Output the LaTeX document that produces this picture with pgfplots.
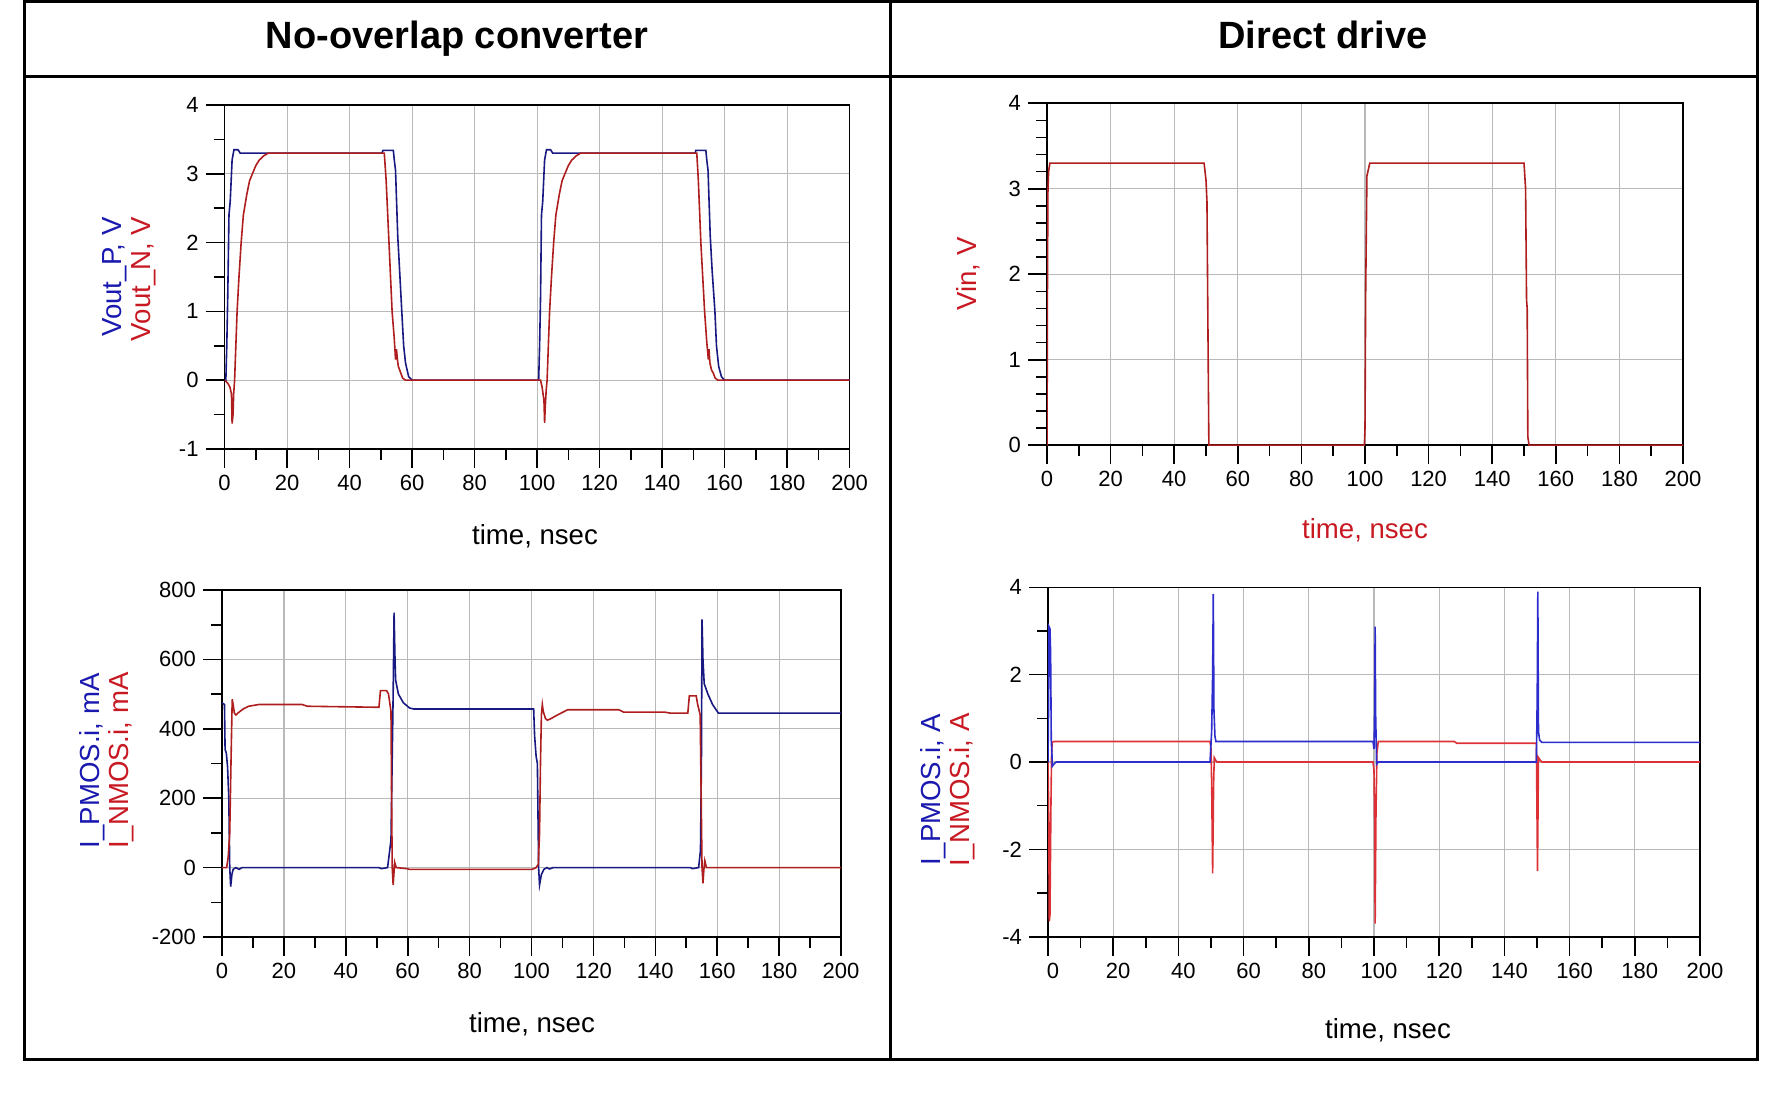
\documentclass[border=0pt]{standalone}
\usepackage{fontspec}
\setmainfont{Liberation Sans}
\usepackage{pgfplots}
\pgfplotsset{compat=1.18}
\definecolor{navy}{RGB}{25,25,130}
\definecolor{dred}{RGB}{175,30,30}
\definecolor{bblue}{RGB}{45,45,205}
\definecolor{bred}{RGB}{220,50,55}
\definecolor{lblue}{RGB}{25,25,175}
\definecolor{lred}{RGB}{200,25,35}
\definecolor{gridgray}{RGB}{185,185,185}
\pgfplotsset{
  adsaxis/.style={
    scale only axis, anchor=south west,
    xmin=0, xmax=200, xtick={0,20,...,200}, minor x tick num=1,
    grid=major, major grid style={line width=0.6pt, draw=gridgray},
    tick align=outside, tick pos=left,
    major tick length=9.5pt, minor tick length=5.5pt,
    axis line style={line width=0.8pt},
    every tick/.style={black, line width=0.8pt},
    tick label style={font=\fontsize{11}{13}\selectfont},
    /pgf/number format/assume math mode=true,
    every axis plot/.append style={line width=0.8pt, mark=none},
  }
}
\begin{document}
\begin{tikzpicture}
\path[use as bounding box] (0,0) rectangle (888.5pt,559.5pt);
\draw[line width=1.5pt] (12pt,30pt) rectangle (878.5pt,558.75pt);
\draw[line width=1.5pt] (12pt,521.15pt) -- (878.5pt,521.15pt);
\draw[line width=1.5pt] (445.15pt,30pt) -- (445.15pt,558.75pt);
\node[anchor=base, font=\fontsize{19}{22}\selectfont\bfseries] at (228.5pt,535.35pt) {No-overlap converter};
\node[anchor=base, font=\fontsize{19}{22}\selectfont\bfseries] at (661.4pt,535.35pt) {Direct drive};

% ---------- top left ----------
\begin{axis}[adsaxis, at={(112.3pt,335pt)}, width=312.5pt, height=172pt,
  ymin=-1, ymax=4, ytick={-1,0,...,4}, minor y tick num=1]
\addplot[navy] coordinates {(0,0) (0.4,0) (0.7,0.5) (1.0,1.2) (1.4,2.4) (1.8,2.6) (2.4,3.2) (3.0,3.35) (4.3,3.35) (5.0,3.3) (50.3,3.3) (50.7,3.34) (54.0,3.34) (54.3,3.2) (54.7,3.05) (55.4,2.1) (56.0,1.6) (56.7,1.0) (57.3,0.5) (57.9,0.25) (58.9,0.05) (60,0) (100.5,0) (100.8,0.5) (101.1,1.2) (101.4,2.4) (101.8,2.6) (102.4,3.2) (103.0,3.35) (104.3,3.35) (105,3.3) (150.6,3.3) (150.8,3.34) (154,3.34) (154.3,3.2) (154.7,3.05) (155.4,2.1) (156.0,1.6) (156.9,1.0) (157.4,0.5) (158.1,0.2) (159,0.05) (160,0) (200,0)};
\addplot[dred] coordinates {(0,0) (1.1,-0.05) (1.7,-0.1) (2.2,-0.2) (2.4,-0.63) (2.7,-0.5) (2.9,-0.2) (3.2,0) (3.6,0.5) (4.0,1.0) (4.6,1.5) (5.3,2.0) (6.0,2.4) (7.1,2.7) (8.0,2.9) (8.9,3.0) (10,3.12) (11.1,3.2) (12.5,3.26) (13.9,3.3) (51.1,3.3) (51.7,2.9) (52.6,2.0) (53.6,1.0) (54.3,0.6) (54.7,0.3) (55.0,0.45) (55.3,0.3) (55.6,0.2) (56.4,0.1) (57.0,0.03) (57.9,0) (101.1,0) (101.6,-0.1) (102.2,-0.3) (102.4,-0.62) (102.6,-0.4) (102.9,-0.15) (103.2,0) (103.6,0.5) (104,1.0) (104.6,1.5) (105.3,2.0) (106,2.4) (107.1,2.7) (108,2.9) (108.9,3.0) (110,3.12) (111.1,3.2) (112.5,3.26) (113.9,3.3) (151.1,3.3) (151.6,2.9) (152.4,2.0) (153.6,1.0) (154.3,0.55) (154.8,0.3) (155.0,0.45) (155.3,0.25) (155.8,0.15) (156.4,0.1) (157,0.03) (157.9,0) (200,0)};
\end{axis}

% ---------- top right ----------
\begin{axis}[adsaxis, at={(523.5pt,336.85pt)}, width=318pt, height=171pt,
  ymin=0, ymax=4, ytick={0,1,...,4}, minor y tick num=4]
\addplot[dred] coordinates {(0,0) (0.05,0.6) (0.15,2.0) (0.3,3.0) (0.5,3.2) (0.9,3.3) (49.4,3.3) (50.0,3.1) (50.3,2.85) (50.6,1.4) (50.9,0) (99.8,0) (100.0,0.2) (100.2,1.75) (100.6,3.15) (101.5,3.3) (150.0,3.3) (150.5,3.0) (150.8,1.7) (151.0,1.6) (151.2,0.1) (151.6,0) (200,0)};
\end{axis}

% ---------- bottom left ----------
\begin{axis}[adsaxis, at={(111pt,91pt)}, width=309.5pt, height=173.5pt,
  ymin=-200, ymax=800, ytick={-200,0,...,800}, minor y tick num=1]
\addplot[navy] coordinates {(0,475) (0.8,470) (1.0,340) (1.4,330) (1.8,290) (2.2,200) (2.5,0) (2.8,-55) (3.2,-20) (3.6,-5) (4.5,0) (5.5,-5) (6.5,0) (50.7,0) (51.5,-3) (53.5,0) (54.6,80) (55.3,500) (55.6,735) (55.9,600) (56.1,540) (57,500) (58.6,475) (60.6,460) (62,457) (100.7,457) (101.0,380) (101.5,320) (101.9,300) (102.3,0) (102.6,-50) (103.2,-20) (104,-5) (105,0) (105.8,-4) (107,0) (151.3,0) (152,-3) (154,0) (154.6,50) (154.9,300) (155.1,715) (155.4,600) (155.8,530) (157,500) (158.5,470) (160.4,445) (200,445)};
\addplot[dred] coordinates {(0,0) (1.5,0) (2.0,30) (2.5,100) (2.9,300) (3.2,440) (3.3,485) (3.6,470) (4.0,445) (4.5,440) (5.5,448) (7,458) (8.6,465) (11.9,470) (25.9,470) (27.6,465) (50.7,462) (51.2,510) (53.2,510) (53.8,500) (54.6,450) (54.8,200) (55.0,0) (55.3,-50) (55.6,-10) (55.8,15) (56.3,0) (59.7,-3) (60.5,-5) (100.2,-5) (101.5,0) (102.2,10) (102.6,100) (102.9,300) (103.2,440) (103.5,470) (103.8,450) (104.5,430) (105.1,425) (106.0,428) (108.4,440) (111.7,455) (128.2,455) (129.8,448) (143,448) (145,445) (150.5,445) (151.0,495) (153.2,495) (153.7,470) (154.5,440) (154.8,220) (155.1,0) (155.4,-45) (155.7,-5) (156,20) (156.5,0) (200,0)};
\end{axis}

% ---------- bottom right ----------
\begin{axis}[adsaxis, at={(524pt,91.15pt)}, width=326pt, height=174.7pt,
  ymin=-4, ymax=4, ytick={-4,-2,...,4}, minor y tick num=1,
  xticklabel style={xshift=2.5pt}]
\addplot[bred] coordinates {(0,0) (0.2,-1.0) (0.4,-3.65) (0.6,-3.5) (0.9,-1.0) (1.1,0.2) (1.3,0.45) (1.8,0.47) (49.7,0.47) (50.0,0.3) (50.2,-0.5) (50.5,-2.55) (50.8,-0.5) (51.0,0.1) (51.5,0.03) (51.8,0) (99.7,0) (100.0,-0.2) (100.2,-1.5) (100.35,-3.7) (100.6,-1.2) (100.9,0.2) (101.3,0.47) (124.6,0.47) (125.4,0.43) (149.8,0.43) (149.95,-0.8) (150.15,-2.5) (150.45,0.1) (150.9,0.05) (151.5,0) (200,0)};
\addplot[bblue] coordinates {(0,0) (0.2,1.5) (0.3,3.1) (0.6,3.05) (0.8,2.5) (1.0,0.5) (1.2,0.2) (1.3,-0.1) (1.8,-0.05) (2.5,0) (49.7,0) (50.2,0.7) (50.5,2.0) (50.7,3.85) (50.9,1.2) (51.2,0.6) (51.5,0.47) (99.7,0.47) (100.0,0.3) (100.2,1.2) (100.35,3.1) (100.5,1.1) (100.8,-0.05) (101.3,0) (149.8,0) (150.0,1.1) (150.1,1.9) (150.25,3.9) (150.45,0.7) (150.8,0.5) (151.5,0.45) (200,0.45)};
\end{axis}

% ---------- axis labels ----------
\begin{scope}[every node/.style={font=\fontsize{13.8}{16}\selectfont}]
\node[rotate=90, anchor=base, text=lblue] at (60.85pt,421pt) {Vout\_P, V};
\node[rotate=90, anchor=base, text=lred] at (75pt,420pt) {Vout\_N, V};
\node[anchor=base] at (267.5pt,287pt) {time, nsec};
\node[rotate=90, anchor=base, text=lred] at (488.35pt,422.5pt) {Vin, V};
\node[anchor=base, text=lred] at (682.5pt,290pt) {time, nsec};
\node[rotate=90, anchor=base, text=lblue] at (49.65pt,179.15pt) {I\_PMOS.i, mA};
\node[rotate=90, anchor=base, text=lred] at (64.15pt,179.15pt) {I\_NMOS.i, mA};
\node[anchor=base] at (266pt,43pt) {time, nsec};
\node[rotate=90, anchor=base, text=lblue] at (470pt,164.5pt) {I\_PMOS.i, A};
\node[rotate=90, anchor=base, text=lred] at (484.65pt,164.5pt) {I\_NMOS.i, A};
\node[anchor=base] at (694pt,40.35pt) {time, nsec};
\end{scope}
\end{tikzpicture}
\end{document}
